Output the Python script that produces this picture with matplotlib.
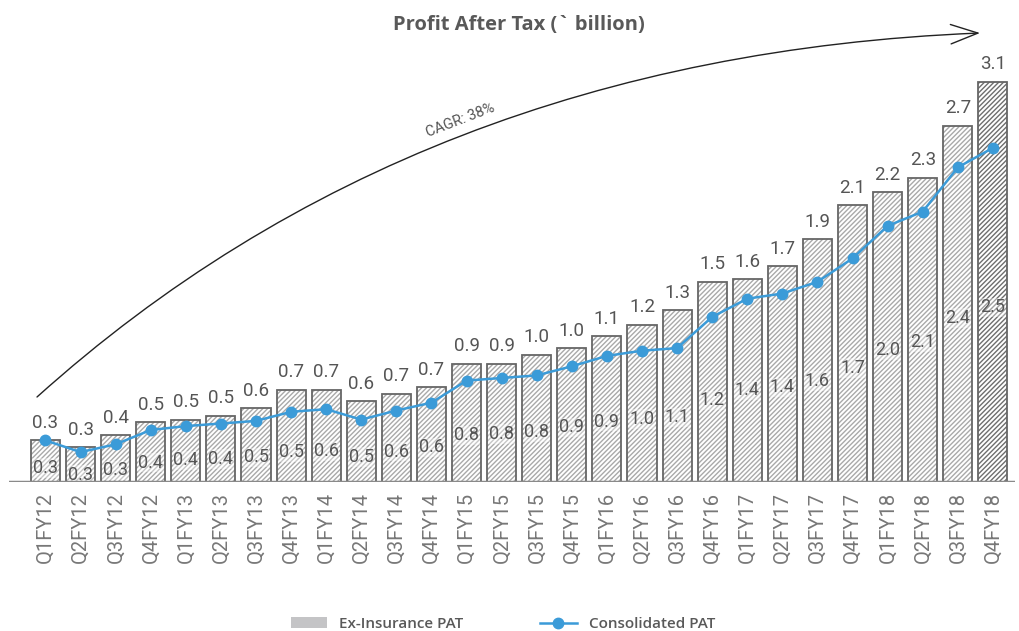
import matplotlib
matplotlib.use("Agg")
import matplotlib.pyplot as plt
from matplotlib.patches import FancyArrowPatch, Patch
from matplotlib.lines import Line2D
from matplotlib.path import Path

quarters = ['Q1FY12', 'Q2FY12', 'Q3FY12', 'Q4FY12', 'Q1FY13', 'Q2FY13', 'Q3FY13',
            'Q4FY13', 'Q1FY14', 'Q2FY14', 'Q3FY14', 'Q4FY14', 'Q1FY15', 'Q2FY15',
            'Q3FY15', 'Q4FY15', 'Q1FY16', 'Q2FY16', 'Q3FY16', 'Q4FY16', 'Q1FY17',
            'Q2FY17', 'Q3FY17', 'Q4FY17', 'Q1FY18', 'Q2FY18', 'Q3FY18', 'Q4FY18']

# Ex-Insurance PAT (bars)
ex_insurance = [0.32, 0.27, 0.36, 0.46, 0.48, 0.51, 0.57, 0.71, 0.71, 0.62, 0.68, 0.73,
                0.91, 0.91, 0.98, 1.03, 1.12, 1.21, 1.32, 1.54, 1.56, 1.66, 1.87, 2.13,
                2.23, 2.34, 2.74, 3.08]

# Consolidated PAT (line)
consolidated = [0.32, 0.23, 0.29, 0.40, 0.43, 0.45, 0.47, 0.54, 0.56, 0.48, 0.55, 0.61,
                0.78, 0.80, 0.82, 0.89, 0.97, 1.01, 1.03, 1.27, 1.41, 1.45, 1.54, 1.72,
                1.97, 2.08, 2.42, 2.57]

# labels printed inside the bars
consolidated_labels = ['0.3', '0.3', '0.3', '0.4', '0.4', '0.4', '0.5', '0.5', '0.6', '0.5',
                       '0.6', '0.6', '0.8', '0.8', '0.8', '0.9', '0.9', '1.0', '1.1', '1.2',
                       '1.4', '1.4', '1.6', '1.7', '2.0', '2.1', '2.4', '2.5']

W, H = 1019, 631
plt.rcParams['hatch.linewidth'] = 1.0
fig = plt.figure(figsize=(W / 100, H / 100), dpi=100)
ax = fig.add_axes([9 / W, 1 - 482 / H, 1006 / W, 455 / H])

x = list(range(len(quarters)))
txt_color = '#555555'

for i, v in enumerate(ex_insurance):
    dark = i == len(ex_insurance) - 1
    ax.bar(i, v, width=0.83, color='white', edgecolor='#6e6e6e' if dark else '#a9a9a9',
           hatch='///////', linewidth=0, zorder=2)
    ax.bar(i, v, width=0.83, fill=False, edgecolor='#666666', linewidth=1.3, zorder=3)
    ax.annotate(f'{v:.1f}', (i, v), xytext=(0, 6), textcoords='offset points',
                ha='center', va='bottom', fontsize=13.5, color=txt_color, family='Roboto')
    ax.text(i, 0.55 * consolidated[i] - 0.07, consolidated_labels[i], ha='center',
            va='center', fontsize=13, color='#555555', family='Roboto', zorder=4,
            bbox=dict(facecolor='white', alpha=0.35, edgecolor='none', pad=0.5))

ax.plot(x, consolidated, color='#3b9bd8', lw=1.8, marker='o', ms=7.5, zorder=5)

ax.axhline(0, color='#8a8a8a', lw=2.5, zorder=6)
ax.set_xlim(-1.04, 27.63)
ax.set_ylim(0, 3.5)
ax.set_xticks(x)
ax.set_xticklabels(quarters, rotation=90, fontsize=14.5, color='#777777', family='Roboto')
ax.tick_params(axis='x', length=0, pad=7)
ax.set_yticks([])
for s in ax.spines.values():
    s.set_visible(False)

fig.text(519 / W, 1 - 25 / H, 'Profit After Tax (` billion)', ha='center', va='center',
         fontsize=14.5, fontweight='bold', color='#595959', family='Open Sans')

# CAGR arrow
def fp(px, py):
    return (px / W, 1 - py / H)

path = Path([fp(37, 397), fp(416, 56), fp(980, 33)], [Path.MOVETO, Path.CURVE3, Path.CURVE3])
arrow = FancyArrowPatch(path=path, arrowstyle='->,head_length=1.4,head_width=0.5',
                        mutation_scale=14, color='#222222', lw=1.0,
                        transform=fig.transFigure)
fig.patches.append(arrow)
fig.text(460 / W, 1 - 120 / H, 'CAGR: 38%', ha='center', va='center', rotation=21,
         fontsize=10.5, color='#555555', family='Roboto')

handles = [Patch(facecolor='#c4c4c6', edgecolor='none'),
           Line2D([0], [0], color='#3b9bd8', lw=1.8, marker='o', ms=7.5)]
fig.legend(handles, ['Ex-Insurance PAT', 'Consolidated PAT'], loc='center', ncol=2,
           bbox_to_anchor=(503 / W, 1 - 624 / H), frameon=False, columnspacing=5,
           handlelength=2.4,
           prop={'family': 'Open Sans', 'weight': 'semibold', 'size': 11})
for t in fig.legends[0].get_texts():
    t.set_color('#595959')

fig.savefig('out.png', dpi=100)
